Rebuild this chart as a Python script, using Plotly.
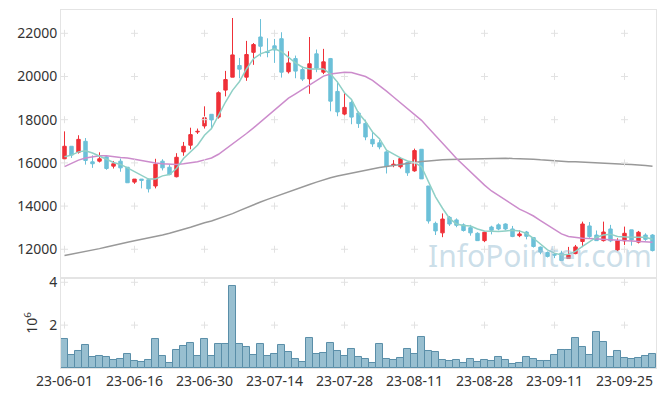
import plotly.graph_objects as go

dates = [
    "23-06-01","23-06-02","23-06-05","23-06-07","23-06-08","23-06-09","23-06-12","23-06-13","23-06-14","23-06-15",
    "23-06-16","23-06-19","23-06-20","23-06-21","23-06-22","23-06-23","23-06-26","23-06-27","23-06-28","23-06-29",
    "23-06-30","23-07-03","23-07-04","23-07-05","23-07-06","23-07-07","23-07-10","23-07-11","23-07-12","23-07-13",
    "23-07-14","23-07-17","23-07-18","23-07-19","23-07-20","23-07-21","23-07-24","23-07-25","23-07-26","23-07-27",
    "23-07-28","23-07-31","23-08-01","23-08-02","23-08-03","23-08-04","23-08-07","23-08-08","23-08-09","23-08-10",
    "23-08-11","23-08-14","23-08-16","23-08-17","23-08-18","23-08-21","23-08-22","23-08-23","23-08-24","23-08-25",
    "23-08-28","23-08-29","23-08-30","23-08-31","23-09-01","23-09-04","23-09-05","23-09-06","23-09-07","23-09-08",
    "23-09-11","23-09-12","23-09-13","23-09-14","23-09-15","23-09-18","23-09-19","23-09-20","23-09-21","23-09-22",
    "23-09-25","23-09-26","23-09-27","23-10-04","23-10-05",
]

open_ = [16190,16770,16490,17000,16050,16080,16280,15850,16080,15800,
         15110,15250,15220,14930,16080,15800,15360,16510,16820,17430,
         17710,18250,18120,19370,19970,20510,19970,21120,21830,21150,
         21420,21750,20220,20830,20320,19890,21050,20200,20830,19310,
         18260,18800,18310,17830,17090,16930,16510,15880,15820,16020,
         15630,16630,14930,13200,12760,13480,13360,13130,13000,12740,
         12400,13030,13130,13170,12940,12630,12800,12540,12100,11850,
         11770,11820,11570,11800,12360,13080,12660,12400,12940,11970,
         12390,12900,12330,12660,12660]
high = [17460,16770,17280,17150,16350,16490,16320,16090,16200,15800,
        15250,15250,15280,16190,16170,15930,16450,16970,17630,17590,
        18620,18250,19310,20260,22710,20860,21650,21550,22660,21770,
        21740,22050,21170,20970,20460,21830,21250,21280,20860,19770,
        19230,18890,18390,18000,17480,17060,16620,16130,16250,16050,
        16660,16630,14930,13280,13660,13540,13430,13200,13130,12790,
        12820,13090,13200,13200,13080,12880,12850,12570,12130,11900,
        11900,11930,12110,12200,13280,13260,12870,13280,13130,12510,
        13050,12900,12850,12740,12700]
low = [16150,16230,16430,15920,15770,16020,15680,15740,15590,15080,
       15030,14820,14630,14820,15650,15430,15330,16330,16630,17340,
       17590,17560,18050,19080,19970,19920,19800,20540,20920,20890,
       20630,19950,20140,19920,19790,19200,20200,20110,18390,18160,
       18200,17790,17620,17050,16740,16630,15510,15800,15740,15400,
       15590,15260,13190,12660,12560,13080,13020,12820,12630,12390,
       12330,12690,12880,12880,12560,12560,12460,12080,11770,11620,
       11590,11480,11560,11770,12100,12530,12390,12360,12330,11910,
       12200,12170,12270,12390,11900]
close = [16770,16360,17090,16110,15960,16190,15740,15960,15770,15080,
         15250,15190,14800,15940,15770,15460,16260,16770,17310,17460,
         18090,17990,19250,19860,21000,20340,21020,21480,21400,21110,
         21230,20200,20630,20250,19880,20590,20390,20680,18860,18360,
         18570,18120,17820,17200,16880,16740,15830,15940,16200,15540,
         16570,15260,13310,12850,13400,13170,13110,12870,12760,12400,
         12790,12880,12940,12940,12590,12710,12600,12130,11870,11670,
         11730,11480,11730,12110,13170,12590,12400,12800,12390,12390,
         12740,12430,12790,12460,11940]

ma5 = [16280,16360,16510,16560,16460,16330,16170,16020,15930,15770,
       15590,15430,15250,15260,15400,15460,15740,16200,16510,16820,
       17280,17590,18200,18820,19360,19770,20350,20820,21050,21150,
       21280,21150,20890,20630,20430,20350,20350,20350,20120,19740,
       19250,18940,18310,17920,17430,17120,16590,16390,16230,16090,
       16020,15820,15130,14430,13900,13430,13170,13100,13080,12940,
       12850,12820,12820,12850,12880,12850,12730,12510,12230,11970,
       11820,11740,11770,11900,12130,12360,12560,12660,12700,12590,
       12560,12560,12560,12560,12460]
ma20 = [15830,15970,16130,16230,16280,16330,16330,16280,16250,16230,
        16170,16090,16020,15990,15960,15930,15930,15960,16000,16050,
        16140,16230,16400,16630,16890,17120,17360,17620,17890,18170,
        18460,18740,19000,19200,19400,19590,19800,20020,20120,20170,
        20200,20190,20110,20000,19820,19590,19320,19050,18770,18510,
        18250,17970,17620,17250,16890,16560,16200,15890,15590,15280,
        14970,14700,14480,14280,14050,13860,13710,13540,13330,13130,
        12930,12710,12590,12540,12510,12500,12480,12460,12430,12420,
        12400,12390,12370,12360,12330]
ma60 = [11710,11770,11830,11900,11970,12030,12110,12190,12270,12330,
        12390,12450,12510,12590,12660,12740,12820,12930,13020,13130,
        13230,13310,13420,13530,13650,13790,13930,14050,14190,14310,
        14430,14540,14660,14770,14880,15000,15110,15220,15310,15390,
        15460,15540,15600,15660,15730,15790,15830,15880,15930,15970,
        16020,16060,16090,16130,16140,16160,16170,16190,16200,16200,
        16220,16220,16220,16220,16200,16200,16200,16170,16140,16110,
        16080,16060,16050,16050,16030,16020,16000,15990,15970,15960,
        15940,15930,15890,15880,15850]

volume_m = [1.35,0.62,0.79,1.07,0.51,0.56,0.51,0.37,0.42,0.65,
            0.33,0.28,0.37,1.35,0.56,0.23,0.84,1.02,1.16,0.56,
            1.35,0.56,1.12,1.12,3.81,1.12,0.98,0.60,1.12,0.56,
            0.65,1.07,0.74,0.42,0.28,1.40,0.65,0.70,1.16,0.79,
            0.56,0.88,0.51,0.42,0.23,1.12,0.42,0.37,0.47,0.88,
            0.65,1.44,0.79,0.74,0.37,0.33,0.37,0.23,0.42,0.28,
            0.37,0.33,0.51,0.37,0.19,0.23,0.51,0.42,0.33,0.33,
            0.60,0.84,0.84,1.40,0.98,0.60,1.67,1.21,0.51,0.79,
            0.47,0.42,0.47,0.55,0.65]

price_ticks = [12000, 14000, 16000, 18000, 20000, 22000]
vol_ticks = [2, 4]
x_tick_step = 10

RED = "#ef3038"
BLUE = "#6cc0d8"
FONT = "Noto Sans"

fig = go.Figure()

xt = dates[::x_tick_step]

fig.add_trace(go.Scatter(x=dates, y=ma60, mode="lines", line=dict(color="#999999", width=1.5),
                         showlegend=False, xaxis="x", yaxis="y"))
fig.add_trace(go.Scatter(x=dates, y=ma20, mode="lines", line=dict(color="#cc8ccc", width=1.5),
                         showlegend=False, xaxis="x", yaxis="y"))

fig.add_trace(go.Candlestick(
    x=dates, open=open_, high=high, low=low, close=close,
    increasing=dict(line=dict(color=RED, width=1), fillcolor=RED),
    decreasing=dict(line=dict(color=BLUE, width=1), fillcolor=BLUE),
    whiskerwidth=0, showlegend=False, xaxis="x", yaxis="y"))

fig.add_trace(go.Scatter(x=dates, y=ma5, mode="lines", line=dict(color="#8fd0c6", width=1.5),
                         showlegend=False, xaxis="x", yaxis="y"))

fig.add_trace(go.Bar(x=dates, y=volume_m, marker=dict(color="#98bfd0", line=dict(color="#5a8ea8", width=1)),
                     showlegend=False, xaxis="x2", yaxis="y2"))

# grid crosses at tick intersections
cross = dict(symbol="cross-thin", size=5, line=dict(color="#e2e2e2", width=1))
fig.add_trace(go.Scatter(
    x=[d for d in xt for _ in price_ticks], y=[p for _ in xt for p in price_ticks],
    mode="markers", marker=cross, hoverinfo="skip", showlegend=False, xaxis="x", yaxis="y"))
fig.add_trace(go.Scatter(
    x=[d for d in xt for _ in vol_ticks], y=[v for _ in xt for v in vol_ticks],
    mode="markers", marker=cross, hoverinfo="skip", showlegend=False, xaxis="x2", yaxis="y2"))

split = 0.2514
axis_line = "#e4e4e4"
common_x = dict(type="category", categoryorder="array", categoryarray=dates,
                range=[-0.5, len(dates) - 0.5], showgrid=False, showline=True, mirror=True,
                linecolor=axis_line, linewidth=1, ticks="", automargin=False)
common_y = dict(showgrid=False, zeroline=False, showline=True, mirror=True,
                linecolor=axis_line, linewidth=1, ticks="", automargin=False, tickformat="d")
# the page body adds an 8px margin, so the figure is sized to fit inside the window
fig.update_layout(
    width=649, height=384,
    margin=dict(l=53, r=1, t=2, b=24),
    paper_bgcolor="white", plot_bgcolor="white",
    font=dict(family=FONT, size=14, color="#333333"),
    bargap=0,
    xaxis=dict(domain=[0, 1], anchor="y", matches="x2", showticklabels=False,
               rangeslider=dict(visible=False), **common_x),
    yaxis=dict(domain=[split, 1], range=[10670, 23080], tickvals=price_ticks, **common_y),
    xaxis2=dict(domain=[0, 1], anchor="y2", tickvals=xt, ticktext=xt, tickangle=0, **common_x),
    yaxis2=dict(domain=[0, split], range=[0, 4.2], tickvals=vol_ticks,
                title=dict(text="10<sup>6</sup>", standoff=8, font=dict(size=14)), **common_y),
    annotations=[dict(text="InfoPointer.com", xref="paper", yref="paper", x=0.805, y=0.313,
                      xanchor="center", yanchor="middle", showarrow=False,
                      font=dict(family=FONT, size=30, color="rgba(160,195,215,0.55)"))],
)

fig.write_html("out.html")
